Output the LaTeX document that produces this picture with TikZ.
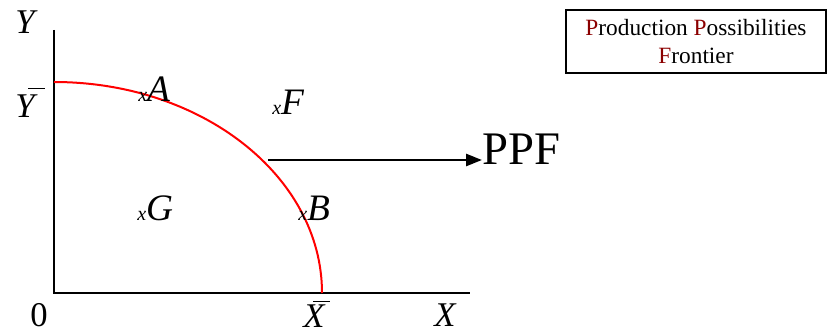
\documentclass[tikz,border=0pt]{standalone}
\usepackage{fontspec}
\setmainfont{Liberation Serif}
\usepackage{tikz}
\usetikzlibrary{positioning,arrows.meta}
\definecolor{ppfred}{HTML}{FF0000}
\definecolor{initial}{HTML}{8B0000}
% letter with its bar set off to the right
\newcommand{\offbar}[3]{\rlap{\hspace{#2em}\rule[#3em]{0.49em}{0.6pt}}#1}
% small x mark before a point name
\newcommand{\ptmark}[1]{{\fontsize{15}{16}\selectfont x}#1}

\begin{document}
\begin{tikzpicture}[
  x=0.75pt, y=-0.75pt,
  font=\fontsize{26}{28}\selectfont,
  axis/.style={line width=1.5pt},
  frontier/.style={line width=1.5pt, draw=ppfred},
  shift arrow/.style={line width=2pt, -{Triangle[length=12pt, width=9pt]}},
  axislbl/.style={inner sep=0pt, font=\fontsize{26}{28}\selectfont\itshape},
  point/.style={inner sep=0pt, anchor=base west, font=\fontsize{28}{30}\selectfont\itshape},
  legend/.style={draw, line width=1.1pt, align=center, inner sep=0pt,
                 minimum width=195pt, minimum height=47pt,
                 font=\fontsize{17.5}{20.5}\selectfont},
]
\useasboundingbox (0,0) rectangle (838,334);

\coordinate (O) at (54,293);
\coordinate (ytop) at (54,30);
\coordinate (xend) at (470,293);
\coordinate (ymax) at (54,82);
\coordinate (cut) at (268,160);

\draw[axis] (ytop) -- (O) -- (xend);
\draw[frontier] (ymax) arc[start angle=-90, end angle=0, x radius=268, y radius=211];

\node[axislbl] (ylbl) at (25,22) {Y};
\node[axislbl, anchor=base] (ybar) at (25,118) {\offbar{Y}{0.37}{0.83}};
\node[inner sep=0pt] (zero) at (39,315) {0};
\node[axislbl, anchor=base] (xbar) at (314,328) {\offbar{X}{0.29}{0.77}};
\node[axislbl] (xlbl) at (445,315) {X};

\node[point] (ptA) at (138,102) {\ptmark{A}};
\node[point] (ptF) at (272,115) {\ptmark{F}};
\node[point] (ptG) at (137,221) {\ptmark{G}};
\node[point] (ptB) at (298,221) {\ptmark{B}};

\node[inner sep=0pt, anchor=base west, font=\fontsize{35}{38}\selectfont] (ppf) at (482,165) {PPF};
\draw[shift arrow] (cut) -- (cut -| ppf.west);

\node[legend] (key) at (696,41.5)
  {\textcolor{initial}{P}roduction \textcolor{initial}{P}ossibilities\\\textcolor{initial}{F}rontier};

\end{tikzpicture}
\end{document}
